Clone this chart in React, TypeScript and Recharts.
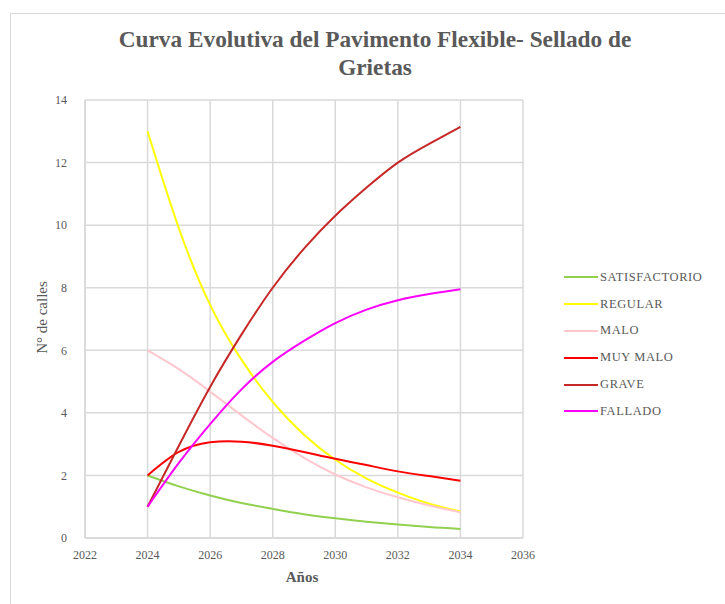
import React from 'react'
import { LineChart, Line, XAxis, YAxis, CartesianGrid } from 'recharts'

const YEARS = [2024, 2025, 2026, 2027, 2028, 2029, 2030, 2031, 2032, 2033, 2034]

const SATISFACTORIO = [2, 1.65, 1.36, 1.12, 0.93, 0.76, 0.63, 0.52, 0.43, 0.35, 0.29]
const REGULAR = [13, 9.9, 7.45, 5.7, 4.35, 3.3, 2.5, 1.9, 1.45, 1.1, 0.85]
const MALO = [6, 5.4, 4.68, 3.92, 3.2, 2.56, 2.03, 1.62, 1.3, 1.04, 0.82]
const MUY_MALO = [2, 2.75, 3.06, 3.08, 2.95, 2.75, 2.53, 2.33, 2.13, 1.98, 1.83]
const GRAVE = [1, 2.95, 4.83, 6.5, 8.0, 9.25, 10.3, 11.2, 12.0, 12.6, 13.14]
const FALLADO = [1, 2.4, 3.64, 4.75, 5.63, 6.3, 6.87, 7.3, 7.6, 7.8, 7.95]

const X_TICKS = [2022, 2024, 2026, 2028, 2030, 2032, 2034, 2036]
const Y_TICKS = [0, 2, 4, 6, 8, 10, 12, 14]

const SERIES = [
  { key: 'satisfactorio', name: 'SATISFACTORIO', values: SATISFACTORIO, color: '#92d050' },
  { key: 'regular', name: 'REGULAR', values: REGULAR, color: '#ffff00' },
  { key: 'malo', name: 'MALO', values: MALO, color: '#ffc7ce' },
  { key: 'muyMalo', name: 'MUY MALO', values: MUY_MALO, color: '#ff0000' },
  { key: 'grave', name: 'GRAVE', values: GRAVE, color: '#c62828' },
  { key: 'fallado', name: 'FALLADO', values: FALLADO, color: '#ff00ff' },
]

const data = YEARS.map((year, i) => {
  const row: Record<string, number> = { year }
  SERIES.forEach((s) => {
    row[s.key] = s.values[i]
  })
  return row
})

const FONT = '"Times New Roman", Tinos, "Liberation Serif", "DejaVu Serif", "Noto Serif", serif'
const TEXT = '#595959'

export default function App() {
  return (
    <div style={{ position: 'fixed', left: 0, top: 0, width: 725, height: 604, background: '#fff', overflow: 'hidden' }}>
      <div
        style={{
          position: 'absolute',
          left: 10,
          top: 13,
          width: 740,
          height: 640,
          border: '1.5px solid #d9d9d9',
          boxSizing: 'border-box',
        }}
      />
      <div
        style={{
          position: 'absolute',
          left: 40,
          top: 25,
          width: 670,
          textAlign: 'center',
          fontFamily: FONT,
          fontWeight: 'bold',
          fontSize: 23.3,
          lineHeight: '28px',
          color: TEXT,
        }}
      >
        Curva Evolutiva del Pavimento Flexible- Sellado de
        <br />
        Grietas
      </div>
      <div style={{ position: 'absolute', left: 0, top: 0 }}>
        <LineChart
          width={725}
          height={604}
          data={data}
          margin={{ top: 100, right: 202, bottom: 36, left: 45 }}
        >
          <CartesianGrid stroke="#d9d9d9" strokeWidth={1.5} />
          <XAxis
            dataKey="year"
            type="number"
            domain={[2022, 2036]}
            ticks={X_TICKS}
            interval={0}
            stroke="#d9d9d9"
            strokeWidth={1.5}
            tickLine={false}
            height={30}
            tick={{ fontFamily: FONT, fontSize: 12, fill: TEXT }}
            tickMargin={6}
          />
          <YAxis
            type="number"
            domain={[0, 14]}
            ticks={Y_TICKS}
            interval={0}
            stroke="#d9d9d9"
            strokeWidth={1.5}
            tickLine={false}
            width={40}
            tick={{ fontFamily: FONT, fontSize: 12, fill: TEXT }}
            tickMargin={12}
          />
          {SERIES.map((s) => (
            <Line
              key={s.key}
              dataKey={s.key}
              name={s.name}
              type="natural"
              stroke={s.color}
              strokeWidth={2}
              dot={false}
              activeDot={false}
              isAnimationActive={false}
            />
          ))}
        </LineChart>
      </div>
      <div
        style={{
          position: 'absolute',
          left: 254,
          top: 569,
          width: 96,
          textAlign: 'center',
          fontFamily: FONT,
          fontWeight: 'bold',
          fontSize: 15,
          color: TEXT,
        }}
      >
        Años
      </div>
      <div
        style={{
          position: 'absolute',
          left: -8,
          top: 309,
          width: 100,
          textAlign: 'center',
          fontFamily: FONT,
          fontSize: 15,
          color: TEXT,
          transform: 'rotate(-90deg)',
        }}
      >
        N° de calles
      </div>
      <div style={{ position: 'absolute', left: 564, top: 264 }}>
        {SERIES.map((s) => (
          <div key={s.key} style={{ display: 'flex', alignItems: 'center', height: 26.8 }}>
            <div style={{ width: 34, height: 2, background: s.color }} />
            <span
              style={{
                fontFamily: FONT,
                fontSize: 12.5,
                color: TEXT,
                marginLeft: 2,
                letterSpacing: 0.6,
              }}
            >
              {s.name}
            </span>
          </div>
        ))}
      </div>
    </div>
  )
}
